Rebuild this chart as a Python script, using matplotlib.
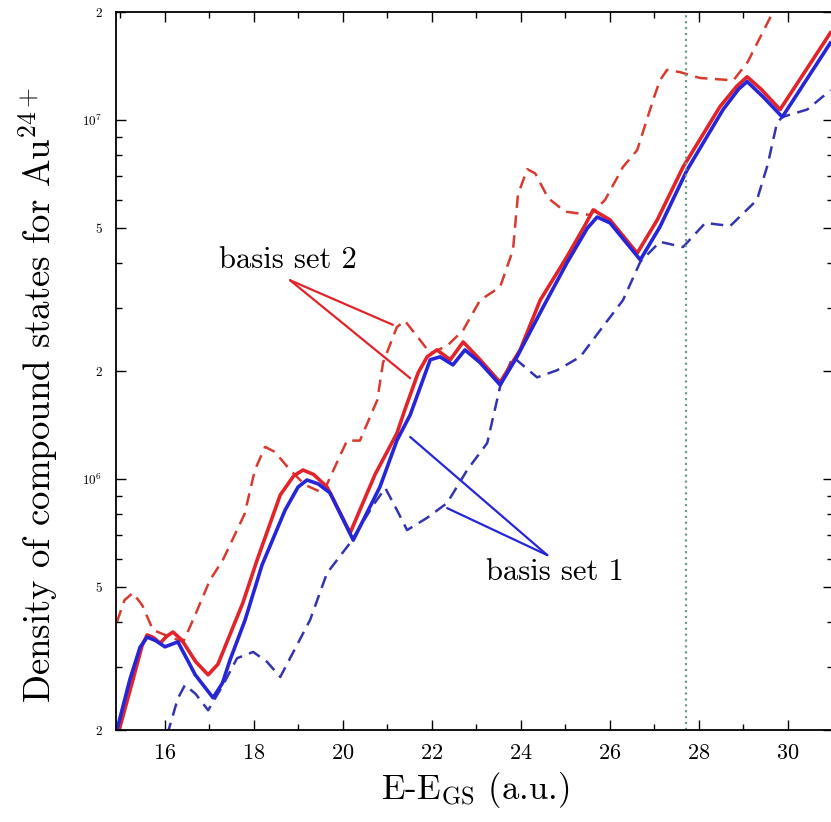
import matplotlib
matplotlib.use('Agg')
import matplotlib.pyplot as plt

plt.rcParams['font.family'] = ['cmr10', 'DejaVu Serif']
plt.rcParams['mathtext.fontset'] = 'cm'
plt.rcParams['axes.formatter.use_mathtext'] = True

# basis set 2, solid
x_r = [14.98, 15.29, 15.50, 15.61, 15.75, 15.90, 16.05, 16.19, 16.39, 16.70,
       16.98, 17.20, 17.76, 18.08, 18.60, 18.90, 19.11, 19.35, 19.65, 20.17,
       20.73, 21.22, 21.40, 21.70, 21.90, 22.12, 22.42, 22.71, 23.09, 23.54,
       23.99, 24.44, 25.04, 25.45, 25.63, 26.01, 26.62, 27.07, 27.65, 28.48,
       28.85, 29.09, 29.40, 29.83, 30.96]
y_r = [2.0e5, 2.76e5, 3.45e5, 3.68e5, 3.62e5, 3.49e5, 3.65e5, 3.75e5, 3.56e5, 3.10e5,
       2.85e5, 3.05e5, 4.52e5, 5.95e5, 9.03e5, 1.02e6, 1.06e6, 1.03e6, 9.51e5, 7.08e5,
       1.03e6, 1.34e6, 1.56e6, 1.98e6, 2.19e6, 2.29e6, 2.15e6, 2.41e6, 2.15e6, 1.86e6,
       2.29e6, 3.15e6, 4.16e6, 5.10e6, 5.62e6, 5.27e6, 4.26e6, 5.27e6, 7.40e6, 1.09e7,
       1.24e7, 1.32e7, 1.22e7, 1.07e7, 1.75e7]

# basis set 2, dashed
x_rd = [14.93, 15.10, 15.29, 15.50, 15.74, 16.08, 16.42, 16.64, 17.02, 17.31,
        17.80, 18.03, 18.26, 18.48, 18.82, 19.16, 19.56, 20.10, 20.39, 20.78,
        20.91, 21.22, 21.40, 21.74, 21.97, 22.35, 22.71, 23.09, 23.54, 23.83,
        23.94, 24.15, 24.33, 24.62, 25.00, 25.56, 25.90, 26.30, 26.62, 26.98,
        27.13, 27.29, 27.58, 28.03, 28.78, 29.10, 29.67, 29.95]
y_rd = [4.0e5, 4.60e5, 4.82e5, 4.45e5, 3.80e5, 3.65e5, 3.52e5, 4.05e5, 5.23e5, 5.95e5,
        8.0e5, 1.06e6, 1.23e6, 1.19e6, 1.06e6, 9.63e5, 9.15e5, 1.28e6, 1.28e6, 1.66e6,
        2.11e6, 2.65e6, 2.76e6, 2.44e6, 2.24e6, 2.35e6, 2.60e6, 3.15e6, 3.43e6, 4.35e6,
        6.2e6, 7.3e6, 7.1e6, 6.06e6, 5.56e6, 5.44e6, 6.0e6, 7.40e6, 8.25e6, 1.14e7,
        1.29e7, 1.38e7, 1.36e7, 1.31e7, 1.29e7, 1.45e7, 2.0e7, 2.3e7]

# basis set 1, solid
x_b = [14.93, 15.22, 15.45, 15.61, 15.80, 16.01, 16.30, 16.69, 17.09, 17.30,
       17.47, 17.81, 18.19, 18.71, 19.00, 19.20, 19.45, 19.72, 20.24, 20.84,
       21.22, 21.52, 21.97, 22.19, 22.48, 22.75, 23.09, 23.54, 23.92, 24.51,
       25.04, 25.50, 25.72, 26.01, 26.69, 27.13, 27.74, 28.55, 28.90, 29.09,
       29.45, 29.88, 30.96]
y_b = [2.0e5, 2.76e5, 3.40e5, 3.63e5, 3.55e5, 3.41e5, 3.52e5, 2.85e5, 2.46e5, 2.70e5,
       3.13e5, 4.05e5, 5.76e5, 8.20e5, 9.50e5, 9.94e5, 9.70e5, 9.15e5, 6.76e5, 9.51e5,
       1.28e6, 1.51e6, 2.15e6, 2.19e6, 2.08e6, 2.29e6, 2.11e6, 1.83e6, 2.19e6, 3.02e6,
       4.0e6, 5.0e6, 5.37e6, 5.17e6, 4.08e6, 5.04e6, 7.26e6, 1.07e7, 1.22e7, 1.28e7,
       1.16e7, 1.02e7, 1.64e7]

# basis set 1, dashed
x_bd = [16.06, 16.30, 16.46, 16.70, 16.98, 17.30, 17.63, 17.99, 18.30, 18.60,
        19.27, 19.65, 20.17, 20.70, 20.96, 21.20, 21.45, 21.90, 22.35, 22.80,
        23.25, 23.54, 23.83, 24.10, 24.37, 24.82, 25.34, 25.79, 26.30, 26.69,
        27.13, 27.65, 28.15, 28.71, 29.31, 29.55, 29.76, 29.88, 30.44, 30.96]
y_bd = [1.94e5, 2.45e5, 2.67e5, 2.52e5, 2.27e5, 2.65e5, 3.17e5, 3.30e5, 3.10e5, 2.81e5,
        4.05e5, 5.47e5, 6.64e5, 8.50e5, 9.44e5, 8.30e5, 7.21e5, 7.80e5, 8.58e5, 1.06e6,
        1.26e6, 1.81e6, 2.19e6, 2.05e6, 1.92e6, 2.01e6, 2.19e6, 2.60e6, 3.15e6, 4.03e6,
        4.58e6, 4.43e6, 5.17e6, 5.07e6, 5.99e6, 7.5e6, 9.82e6, 1.02e7, 1.07e7, 1.21e7]

e_mark = 27.72

red = '#e2242a'
blue = '#2626d8'

fig = plt.figure(figsize=(8.31, 8.22), dpi=100)
ax = fig.add_axes([0.1396, 0.1119, 0.8634, 0.8735])

ax.plot(x_rd, y_rd, color='#d83a30', lw=1.8, dashes=(5, 3))
ax.plot(x_bd, y_bd, color='#3434b0', lw=1.8, dashes=(5, 3))
ax.plot(x_r, y_r, color=red, lw=2.6, solid_joinstyle='round')
ax.plot(x_b, y_b, color=blue, lw=2.6, solid_joinstyle='round')
ax.axvline(e_mark, color='#6e9e84', lw=1.6, ls=':')

ax.set_yscale('log')
ax.set_xlim(14.91, 31.03)
ax.set_ylim(2e5, 2e7)

ax.set_xticks([16, 18, 20, 22, 24, 26, 28, 30])
ax.set_xticks([15, 17, 19, 21, 23, 25, 27, 29, 31], minor=True)
ax.set_yticks([2e5, 5e5, 1e6, 2e6, 5e6, 1e7, 2e7],
              labels=['2', '5', r'$10^6$', '2', '5', r'$10^7$', '2'])
ax.set_yticks([3e5, 4e5, 6e5, 7e5, 8e5, 9e5, 3e6, 4e6, 6e6, 7e6, 8e6, 9e6],
              labels=[], minor=True)
ax.tick_params(which='both', direction='in', top=True, right=True)
ax.tick_params(which='major', length=7, width=1)
ax.tick_params(which='minor', length=4, width=1)
ax.tick_params(axis='x', labelsize=16, pad=10)
ax.tick_params(axis='y', labelsize=9.5, pad=10)
for s in ax.spines.values():
    s.set_linewidth(1.3)

ax.set_xlabel(r'E-E$_{\rm GS}$ (a.u.)', fontsize=25, labelpad=5)
ax.set_ylabel(r'Density of compound states for Au$^{24+}$', fontsize=26.5)
ax.yaxis.set_label_coords(-0.078, 0.467)

ax.text(18.78, 4.08e6, 'basis set 2', fontsize=22, ha='center', va='center')
ax.annotate('', xy=(21.13, 2.69e6), xytext=(18.82, 3.58e6),
            arrowprops=dict(arrowstyle='-', color=red, lw=1.6, shrinkA=0, shrinkB=0))
ax.annotate('', xy=(21.52, 1.91e6), xytext=(18.82, 3.58e6),
            arrowprops=dict(arrowstyle='-', color=red, lw=1.6, shrinkA=0, shrinkB=0))

ax.text(24.78, 5.51e5, 'basis set 1', fontsize=22, ha='center', va='center')
ax.annotate('', xy=(21.52, 1.31e6), xytext=(24.60, 6.14e5),
            arrowprops=dict(arrowstyle='-', color=blue, lw=1.6, shrinkA=0, shrinkB=0))
ax.annotate('', xy=(22.35, 8.30e5), xytext=(24.60, 6.14e5),
            arrowprops=dict(arrowstyle='-', color=blue, lw=1.6, shrinkA=0, shrinkB=0))

fig.savefig('out.png', dpi=100)
